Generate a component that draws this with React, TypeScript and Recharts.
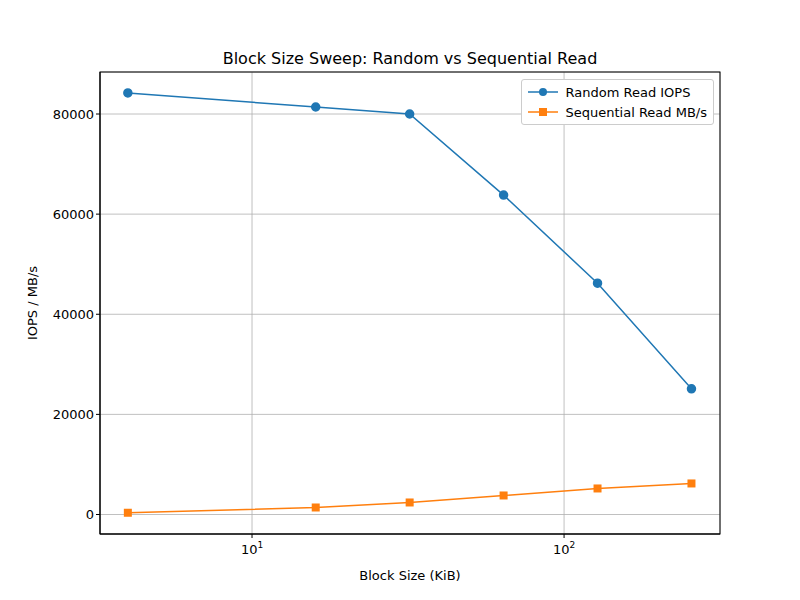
import React from "react";
import { LineChart, Line, XAxis, YAxis, CartesianGrid, Label } from "recharts";

const blockSizes = [4, 16, 32, 64, 128, 256];
const randomIops = [84200, 81400, 80000, 63800, 46200, 25100];
const seqMbps = [350, 1400, 2400, 3800, 5200, 6200];
const majorTicks = [10, 100];
const minorTicks = [4, 5, 6, 7, 8, 9, 20, 30, 40, 50, 60, 70, 80, 90, 200, 300];
const yTicks = [0, 20000, 40000, 60000, 80000];

const data = blockSizes.map((b, i) => ({ block: b, random: randomIops[i], seq: seqMbps[i] }));

const font = "DejaVu Sans, sans-serif";

const LogTick = (props: any) => {
  const { x, y, payload } = props;
  const exp = Math.round(Math.log10(payload.value));
  return (
    <g>
      <line x1={x} x2={x} y1={y - 8} y2={y - 4} stroke="#000" />
      <text x={x} y={y + 12} textAnchor="middle" fontSize={13} fontFamily={font} fill="#000">
        10<tspan dy={-6} fontSize={9}>{exp}</tspan>
      </text>
    </g>
  );
};

const MinorTick = (props: any) => {
  const { x, y } = props;
  return <line x1={x} x2={x} y1={534} y2={536.5} stroke="#000" strokeWidth={0.7} />;
};

const LegendBox = () => (
  <div style={{ position: "absolute", top: 79, right: 86, background: "#fff", border: "1px solid #ccc", borderRadius: 3, padding: "2px 6px", fontFamily: font, fontSize: 13, zIndex: 2 }}>
    {[
      { name: "Random Read IOPS", color: "#1f77b4", sq: false },
      { name: "Sequential Read MB/s", color: "#ff7f0e", sq: true },
    ].map((e) => (
      <div key={e.name} style={{ display: "flex", alignItems: "center", height: 20 }}>
        <svg width={30} height={12} style={{ marginRight: 8 }}>
          <line x1={0} x2={30} y1={6} y2={6} stroke={e.color} strokeWidth={1.5} />
          {e.sq ? <rect x={11} y={2} width={8} height={8} fill={e.color} /> : <circle cx={15} cy={6} r={4} fill={e.color} />}
        </svg>
        {e.name}
      </div>
    ))}
  </div>
);

export default function App() {
  return (
    <div style={{ position: "absolute", left: 0, top: 0, width: 800, height: 600, background: "#fff" }}>
      <div style={{ position: "absolute", top: 49, width: 820, textAlign: "center", fontFamily: font, fontSize: 16 }}>
        Block Size Sweep: Random vs Sequential Read
      </div>
      <LegendBox />
      <LineChart width={800} height={600} data={data} margin={{ top: 72, right: 80, bottom: 36, left: 40 }}>
        <CartesianGrid stroke="#b0b0b0" strokeWidth={0.8} fill="none" />
        <XAxis
          dataKey="block"
          type="number"
          scale="log"
          domain={[3.257, 316]}
          ticks={majorTicks}
          allowDataOverflow
          height={30}
          tick={<LogTick />}
          tickLine={false}
          stroke="#000"
        >
          <Label value="Block Size (KiB)" position="insideBottom" offset={-16} style={{ fontFamily: font, fontSize: 13, fill: "#000" }} />
        </XAxis>
        <XAxis
          xAxisId="minor"
          dataKey="block"
          type="number"
          scale="log"
          domain={[3.257, 316]}
          ticks={minorTicks}
          allowDataOverflow
          height={0}
          tick={<MinorTick />}
          tickLine={false}
          axisLine={false}
          stroke="#000"
        />
        <YAxis
          type="number"
          domain={[-3895, 88390]}
          ticks={yTicks}
          allowDataOverflow
          width={60}
          tickSize={4}
          stroke="#000"
          tick={{ fontFamily: font, fontSize: 13, fill: "#000" }}
        >
          <Label value="IOPS / MB/s" angle={-90} position="insideLeft" offset={-8} style={{ fontFamily: font, fontSize: 13, fill: "#000", textAnchor: "middle" }} />
        </YAxis>
        <Line dataKey="random" stroke="#1f77b4" strokeWidth={1.5} isAnimationActive={false}
          dot={{ r: 4, fill: "#1f77b4", stroke: "#1f77b4" }} />
        <Line dataKey="seq" stroke="#ff7f0e" strokeWidth={1.5} isAnimationActive={false}
          dot={(p: any) => <rect key={p.index} x={p.cx - 4} y={p.cy - 4} width={8} height={8} fill="#ff7f0e" />} />
        <svg>
          <rect x={100} y={72} width={620} height={462} fill="none" stroke="#000" strokeWidth={1} />
        </svg>
      </LineChart>
    </div>
  );
}
